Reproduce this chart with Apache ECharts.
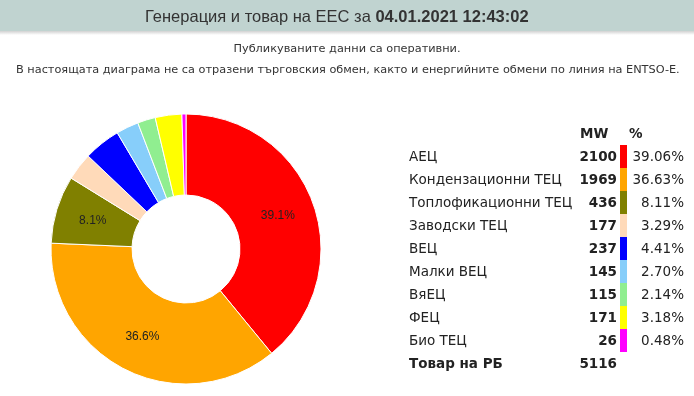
<!DOCTYPE html>
<html>
<head>
<meta charset="utf-8">
<script src="https://cdn.jsdelivr.net/npm/echarts@6/dist/echarts.min.js"></script>
<style>
  html, body { margin: 0; padding: 0; background: #fff; }
  #main { width: 694px; height: 396px; }
</style>
</head>
<body>
<div id="main"></div>
<script>
// data
var sources = ["АЕЦ", "Кондензационни ТЕЦ", "Топлофикационни ТЕЦ", "Заводски ТЕЦ", "ВЕЦ",
  "Малки ВЕЦ", "ВяЕЦ", "ФЕЦ", "Био ТЕЦ"];
var mwValues = [2100, 1969, 436, 177, 237, 145, 115, 171, 26];
var colors = ["#ff0000", "#ffa500", "#808000", "#ffdab9", "#0000ff",
  "#87cefa", "#90ee90", "#ffff00", "#ff00ff"];
var loadLabel = "Товар на РБ";
var loadValue = 5116;
var titleText = "Генерация и товар на ЕЕС за ";
var titleDate = "04.01.2021 12:43:02";
var note1 = "Публикуваните данни са оперативни.";
var note2 = "В настоящата диаграма не са отразени търговския обмен, както и енергийните обмени по линия на ENTSO-E.";

var total = mwValues.reduce(function (a, b) { return a + b; }, 0);
var font = "'DejaVu Sans', Verdana, sans-serif";

// table on the right
var rowTop = 145, rowH = 23;
var fs = "13.5px ";
var table = [];
table.push({ type: "text", left: 580, top: 127, style: { text: "MW", font: "bold " + fs + font, fill: "#222" } });
table.push({ type: "text", left: 629, top: 127, style: { text: "%", font: "bold " + fs + font, fill: "#222" } });
sources.forEach(function (name, i) {
  var y = rowTop + i * rowH;
  table.push({ type: "text", left: 409, top: y + 5, style: { text: name, font: fs + font, fill: "#222" } });
  table.push({ type: "text", right: 694 - 617, top: y + 5, style: { text: String(mwValues[i]), font: "bold " + fs + font, fill: "#222" } });
  table.push({ type: "rect", shape: { x: 620, y: y, width: 7, height: rowH }, style: { fill: colors[i] } });
  table.push({ type: "text", right: 694 - 684, top: y + 5, style: { text: (mwValues[i] / total * 100).toFixed(2) + "%", font: fs + font, fill: "#222" } });
});
var lastY = rowTop + sources.length * rowH;
table.push({ type: "text", left: 409, top: lastY + 5, style: { text: loadLabel, font: "bold " + fs + font, fill: "#222" } });
table.push({ type: "text", right: 694 - 617, top: lastY + 5, style: { text: String(loadValue), font: "bold " + fs + font, fill: "#222" } });

var myChart = echarts.init(document.getElementById("main"));
myChart.setOption({
  backgroundColor: "#ffffff",
  animation: false,
  title: [{
    text: "{n|" + titleText + "}{b|" + titleDate + "}",
    left: 140,
    top: 4,
    textStyle: {
      rich: {
        n: { fontFamily: "'Liberation Sans', sans-serif", fontSize: 16.5, fontWeight: "normal", color: "#333" },
        b: { fontFamily: "'Liberation Sans', sans-serif", fontSize: 16.5, fontWeight: "bold", color: "#333" }
      }
    }
  }, {
    text: note1,
    left: "center",
    top: 39,
    textStyle: { fontFamily: font, fontSize: 11.3, fontWeight: "normal", color: "#333" }
  }, {
    text: note2,
    left: 11,
    top: 60,
    textStyle: { fontFamily: font, fontSize: 11.3, fontWeight: "normal", color: "#333" }
  }],
  graphic: [{
    type: "rect", z: -1, shape: { x: 0, y: 0, width: 694, height: 31 },
    style: { fill: "#c0d3d0" }
  }, {
    type: "rect", z: -1, shape: { x: 0, y: 31, width: 694, height: 4 },
    style: {
      fill: new echarts.graphic.LinearGradient(0, 0, 0, 1, [
        { offset: 0, color: "rgba(0,0,0,0.18)" }, { offset: 1, color: "rgba(0,0,0,0)" }
      ])
    }
  }].concat(table),
  series: [{
    type: "pie",
    center: [186, 249],
    radius: [54, 135],
    startAngle: 90,
    clockwise: true,
    avoidLabelOverlap: false,
    itemStyle: { borderColor: "#fff", borderWidth: 1 },
    label: {
      show: true,
      position: "inside",
      fontFamily: "'Liberation Sans', Arial, sans-serif",
      fontSize: 12,
      color: "#222",
      formatter: function (p) {
        return p.percent >= 5 ? p.percent.toFixed(1) + "%" : "";
      }
    },
    labelLine: { show: false },
    emphasis: { disabled: true },
    data: sources.map(function (name, i) {
      return { name: name, value: mwValues[i], itemStyle: { color: colors[i] } };
    })
  }]
});
window.onresize = function () {
  myChart.resize();
};
</script>
</body>
</html>
